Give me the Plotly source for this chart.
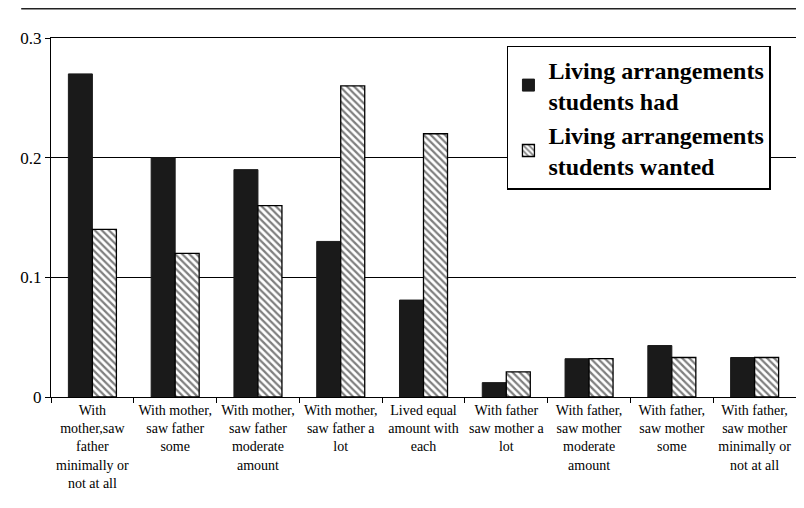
import plotly.graph_objects as go

categories = [
    "With<br>mother,saw<br>father<br>minimally or<br>not at all",
    "With mother,<br>saw father<br>some",
    "With mother,<br>saw father<br>moderate<br>amount",
    "With mother,<br>saw father a<br>lot",
    "Lived equal<br>amount with<br>each",
    "With father<br>saw mother a<br>lot",
    "With father,<br>saw mother<br>moderate<br>amount",
    "With father,<br>saw mother<br>some",
    "With father,<br>saw mother<br>minimally or<br>not at all",
]
had = [0.27, 0.20, 0.19, 0.13, 0.081, 0.012, 0.032, 0.043, 0.033]
wanted = [0.14, 0.12, 0.16, 0.26, 0.22, 0.021, 0.032, 0.033, 0.033]
series_names = ["Living arrangements<br>students had", "Living arrangements<br>students wanted"]
y_ticks = [0, 0.1, 0.2, 0.3]
y_ticklabels = ["0", "0.1", "0.2", "0.3"]

serif = "'Liberation Serif', 'DejaVu Serif', serif"

fig = go.Figure()
fig.add_trace(go.Bar(
    x=categories, y=had, name=series_names[0],
    marker=dict(color="#1a1a1a", line=dict(color="#1a1a1a", width=1)),
))
fig.add_trace(go.Bar(
    x=categories, y=wanted, name=series_names[1],
    marker=dict(color="white", line=dict(color="black", width=1.3),
                pattern=dict(shape="\\", fgcolor="black", bgcolor="white", size=5, solidity=0.45)),
))

fig.update_layout(
    width=804, height=508,
    margin=dict(l=36, r=16, t=30, b=119),
    paper_bgcolor="white", plot_bgcolor="white",
    barmode="group", bargap=0.42, bargroupgap=0,
    font=dict(family=serif, color="black", size=14),
    showlegend=True,
    legend=dict(
        x=0.612, y=0.978, xanchor="left", yanchor="top",
        font=dict(family=serif, size=24, color="black", weight="bold"),
        bgcolor="white", bordercolor="black", borderwidth=1.5,
        tracegroupgap=0, itemwidth=30,
    ),
    xaxis=dict(
        type="category", tickson="boundaries", ticks="outside", ticklen=5,
        tickcolor="black", showline=True, linecolor="black", linewidth=1.2,
        mirror=True, showgrid=False, tickangle=0,
        tickfont=dict(family=serif, size=14),
    ),
    yaxis=dict(
        range=[0, 0.3], tickvals=y_ticks, ticktext=y_ticklabels,
        ticks="outside", ticklen=5, tickcolor="black",
        showline=True, linecolor="black", linewidth=1.2, mirror=True,
        showgrid=True, gridcolor="black", gridwidth=1,
        zeroline=False, tickfont=dict(family=serif, size=17),
    ),
    shapes=[dict(type="line", xref="paper", yref="paper",
                 x0=-0.04, x1=1.005, y0=1.0836, y1=1.0836,
                 line=dict(color="#222", width=3))],
)

fig.write_html("out.html")
